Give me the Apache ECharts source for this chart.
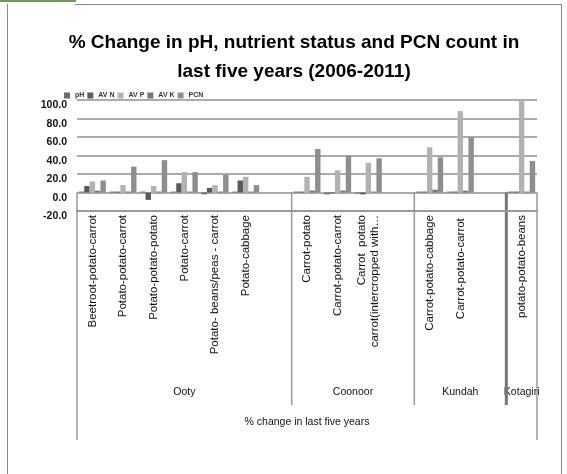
<!DOCTYPE html>
<html><head><meta charset="utf-8">
<script src="https://cdn.jsdelivr.net/npm/echarts@6/dist/echarts.min.js"></script>
<style>html,body{margin:0;padding:0;background:#fff}#c{width:567px;height:474px}</style>
</head><body><div id="c"></div>
<script>
const categories = ['Beetroot-potato-carrot','Potato-potato-carrot','Potato-potato-potato','Potato-carrot','Potato- beans/peas - carrot','Potato-cabbage',' ','Carrot-potato','Carrot-potato-carrot','Carrot  potato\ncarrot(intercropped with…','  ','Carrot-potato-cabbage','Carrot-potato-carrot ','   ','potato-potato-beans'];
const seriesNames = ['pH','AV N','AV P','AV K','PCN'];
const pH  = [1, 1, 1, 1, -2, 1, null, 1, -2, -1, null, 1, 1, null, 1];
const avN = [7, 1, -8, 10, 5, 13, null, 1, -1, -2, null, 1, 1, null, 1];
const avP = [12, 8, 7, 22, 8, 17, null, 17, 24, 32, null, 49, 88, null, 100];
const avK = [2, 1, 1, 1, 1, 1, null, 2, 2, 1, null, 3, 2, null, 1];
const pcn = [13, 28, 35, 22, 19, 8, null, 47, 40, 37, null, 38, 60, null, 34];
const yTicks = [-20, 0, 20, 40, 60, 80, 100];
const groupNames = ['Ooty','Coonoor','Kundah','Kotagiri'];
const groupFirst = [0, 7, 11, 14];
const groupLast = [6, 10, 13, 14];
const axisTitle = '% change in last five years';
const titleLines = ['% Change in pH, nutrient status and PCN count in', 'last five years (2006-2011)'];

const colors = ['#6e6e6e','#5a5a5a','#b2b2b2','#777777','#8e8e8e'];
const allData = [pH, avN, avP, avK, pcn];
const chart = echarts.init(document.getElementById('c'), null, {renderer:'canvas'});
const option = {
  animation: false,
  color: colors,
  textStyle: {fontFamily: 'Liberation Sans'},
  legend: {
    left: 64, top: 92, padding: 0, itemWidth: 6, itemHeight: 6, itemGap: 3,
    icon: 'rect',
    textStyle: {fontSize: 7, fontFamily: 'Liberation Sans', fontWeight: 'bold', color: '#333'},
    data: seriesNames
  },
  grid: {left: 77, right: 30, top: 100, bottom: 263, containLabel: false},
  xAxis: {
    type: 'category', data: categories,
    axisLine: {onZero: false, lineStyle: {color: '#999', width: 2}},
    axisTick: {show: false},
    axisLabel: {interval: 0, rotate: 90, fontSize: 11.5, margin: 4, color: '#111', lineHeight: 12.5}
  },
  yAxis: {
    type: 'value', min: yTicks[0], max: yTicks[yTicks.length-1], interval: 20,
    axisLine: {show: false}, axisTick: {show: false},
    axisLabel: {fontSize: 10.5, fontWeight: 'bold', color: '#111', margin: 10, verticalAlign: 'top', formatter: v => v.toFixed(1)},
    splitLine: {lineStyle: {color: '#8f8f8f', width: 1.5}}
  },
  series: seriesNames.map((n, i) => ({
    name: n, type: 'bar', data: allData[i], barGap: '0%', barCategoryGap: '12%',
    itemStyle: {color: colors[i]}
  }))
};
chart.setOption(option);

const px = i => chart.convertToPixel({xAxisIndex: 0}, i);
const bw = px(1) - px(0);
const y0 = chart.convertToPixel({yAxisIndex: 0}, 0);
const g = [];
// frame
g.push({type:'line', shape:{x1:7.5,y1:4,x2:7.5,y2:474}, style:{stroke:'#8a8a8a', lineWidth:1}});
g.push({type:'line', shape:{x1:75,y1:4.5,x2:562,y2:4.5}, style:{stroke:'#8a8a8a', lineWidth:1}});
g.push({type:'line', shape:{x1:561.5,y1:4,x2:561.5,y2:474}, style:{stroke:'#8a8a8a', lineWidth:1}});
g.push({type:'line', shape:{x1:0,y1:1,x2:76,y2:1}, style:{stroke:'#6f9a4f', lineWidth:2}});
// title
titleLines.forEach((t, k) => g.push({type:'text', x:294, y:43 + k*29, z:-1, style:{text:t, fill:'#000', font:'bold 19px "Liberation Sans"', textAlign:'center', textVerticalAlign:'middle'}}));
// group labels and dividers
groupFirst.forEach((f, k) => {
  const l = px(f) - bw/2, r = px(groupLast[k]) + bw/2;
  g.push({type:'text', x:(l+r)/2, y:392, style:{text:groupNames[k], fill:'#111', font:'10.5px "Liberation Sans"', textAlign:'center', textVerticalAlign:'middle'}});
  if (k > 0) {
    const thick = k === groupNames.length - 1;
    g.push({type:'line', shape:{x1:l,y1:y0,x2:l,y2:405}, style:{stroke: thick ? '#777' : '#999', lineWidth: thick ? 3 : 1.5}});
  }
});
const xl = px(0) - bw/2, xr = px(categories.length-1) + bw/2;
g.push({type:'line', shape:{x1:xl,y1:y0,x2:xl,y2:440}, style:{stroke:'#999', lineWidth:1.5}});
g.push({type:'line', shape:{x1:xr,y1:y0,x2:xr,y2:440}, style:{stroke:'#999', lineWidth:1.5}});
g.push({type:'text', x:(xl+xr)/2, y:422, style:{text:axisTitle, fill:'#111', font:'10.5px "Liberation Sans"', textAlign:'center', textVerticalAlign:'middle'}});
chart.setOption({graphic: g});
</script></body></html>
